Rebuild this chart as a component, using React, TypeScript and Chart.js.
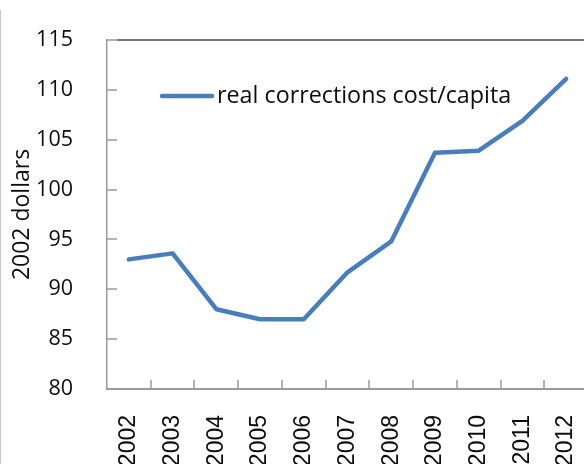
import React, { useEffect, useRef } from 'react';
import { Chart, registerables } from 'chart.js';

Chart.register(...registerables);

const years = ['2002', '2003', '2004', '2005', '2006', '2007', '2008', '2009', '2010', '2011', '2012'];
const costPerCapita = [93.0, 93.6, 88.0, 87.0, 87.0, 91.7, 94.8, 103.7, 103.9, 106.9, 111.1];
const seriesLabel = 'real corrections cost/capita';
const yAxisTitle = '2002 dollars';
const yMin = 80;
const yMax = 115;
const yStep = 5;

const LINE_COLOR = '#4a7ebb';
const AXIS_COLOR = '#9a9a9a';
const TEXT_COLOR = '#0d0d0d';
const LABEL_FONT = '"Open Sans", sans-serif';

const excelDecor = {
  id: 'excelDecor',
  afterDraw(chart: any) {
    const { ctx, chartArea, scales } = chart;
    const { left, right, top, bottom } = chartArea;
    const x = scales.x;
    const y = scales.y;
    ctx.save();
    ctx.strokeStyle = AXIS_COLOR;
    ctx.lineWidth = 1.5;
    ctx.beginPath();
    y.ticks.forEach((t: any) => {
      const py = Math.round(y.getPixelForValue(t.value));
      ctx.moveTo(left, py);
      ctx.lineTo(left + 10, py);
    });
    for (let i = 1; i < years.length; i++) {
      const px = Math.round((x.getPixelForValue(i - 1) + x.getPixelForValue(i)) / 2);
      ctx.moveTo(px, bottom);
      ctx.lineTo(px, bottom - 9);
    }
    ctx.stroke();
    ctx.strokeStyle = '#4a4a4a';
    ctx.lineWidth = 1.5;
    ctx.beginPath();
    const pt = Math.round(y.getPixelForValue(yMax));
    ctx.moveTo(left + 10, pt);
    ctx.lineTo(right, pt);
    ctx.stroke();
    const ds = chart.data.datasets[0];
    const ly = top + 56;
    ctx.strokeStyle = ds.borderColor;
    ctx.lineWidth = ds.borderWidth;
    ctx.lineCap = 'round';
    ctx.beginPath();
    ctx.moveTo(left + 55, ly);
    ctx.lineTo(left + 105, ly);
    ctx.stroke();
    ctx.fillStyle = TEXT_COLOR;
    ctx.font = '23.3px ' + LABEL_FONT;
    ctx.textBaseline = 'middle';
    ctx.textAlign = 'left';
    ctx.fillText(ds.label, left + 110, ly);
    ctx.restore();
  },
};

export default function App() {
  const canvasRef = useRef<HTMLCanvasElement | null>(null);

  useEffect(() => {
    if (!canvasRef.current) return;
    const chart = new Chart(canvasRef.current, {
      type: 'line',
      data: {
        labels: years,
        datasets: [
          {
            label: seriesLabel,
            data: costPerCapita,
            borderColor: LINE_COLOR,
            backgroundColor: LINE_COLOR,
            borderWidth: 4.5,
            borderJoinStyle: 'round',
            borderCapStyle: 'round',
            pointRadius: 0,
            pointHoverRadius: 0,
            tension: 0,
            fill: false,
          },
        ],
      },
      options: {
        responsive: false,
        animation: false,
        layout: { padding: { left: 0, top: 40, right: 12, bottom: 0 } },
        plugins: {
          legend: { display: false },
          tooltip: { enabled: false },
        },
        scales: {
          x: {
            type: 'category',
            offset: true,
            grid: { display: false },
            border: { display: true, color: AXIS_COLOR, width: 2 },
            ticks: {
              autoSkip: false,
              minRotation: 90,
              maxRotation: 90,
              padding: 18,
              color: TEXT_COLOR,
              font: { family: '"Liberation Sans", Arial, sans-serif', size: 23 },
            },
            afterFit: (s: any) => {
              s.height = 75;
              s.paddingLeft = 0;
              s.paddingRight = 0;
            },
          },
          y: {
            min: yMin,
            max: yMax,
            grid: { display: false },
            border: { display: true, color: AXIS_COLOR, width: 1.5 },
            ticks: {
              stepSize: yStep,
              padding: 26,
              color: TEXT_COLOR,
              font: { family: LABEL_FONT, size: 21.5 },
            },
            title: {
              display: true,
              text: yAxisTitle,
              color: TEXT_COLOR,
              font: { family: LABEL_FONT, size: 23 },
              padding: { top: 9, bottom: 0 },
            },
            afterFit: (s: any) => {
              s.width = 107;
              s.paddingTop = 0;
              s.paddingBottom = 0;
            },
          },
        },
      },
      plugins: [excelDecor],
    });
    return () => chart.destroy();
  }, []);

  return (
    <div style={{ position: 'absolute', left: 0, top: 0, width: 584, height: 464, overflow: 'hidden', background: '#fff' }}>
      <div style={{ position: 'absolute', left: 0, top: 10, width: 0, height: 454, borderLeft: '1.5px solid #c8c8c8' }} />
      <canvas ref={canvasRef} width={600} height={464} style={{ position: 'absolute', left: 0, top: 0 }} />
    </div>
  );
}
